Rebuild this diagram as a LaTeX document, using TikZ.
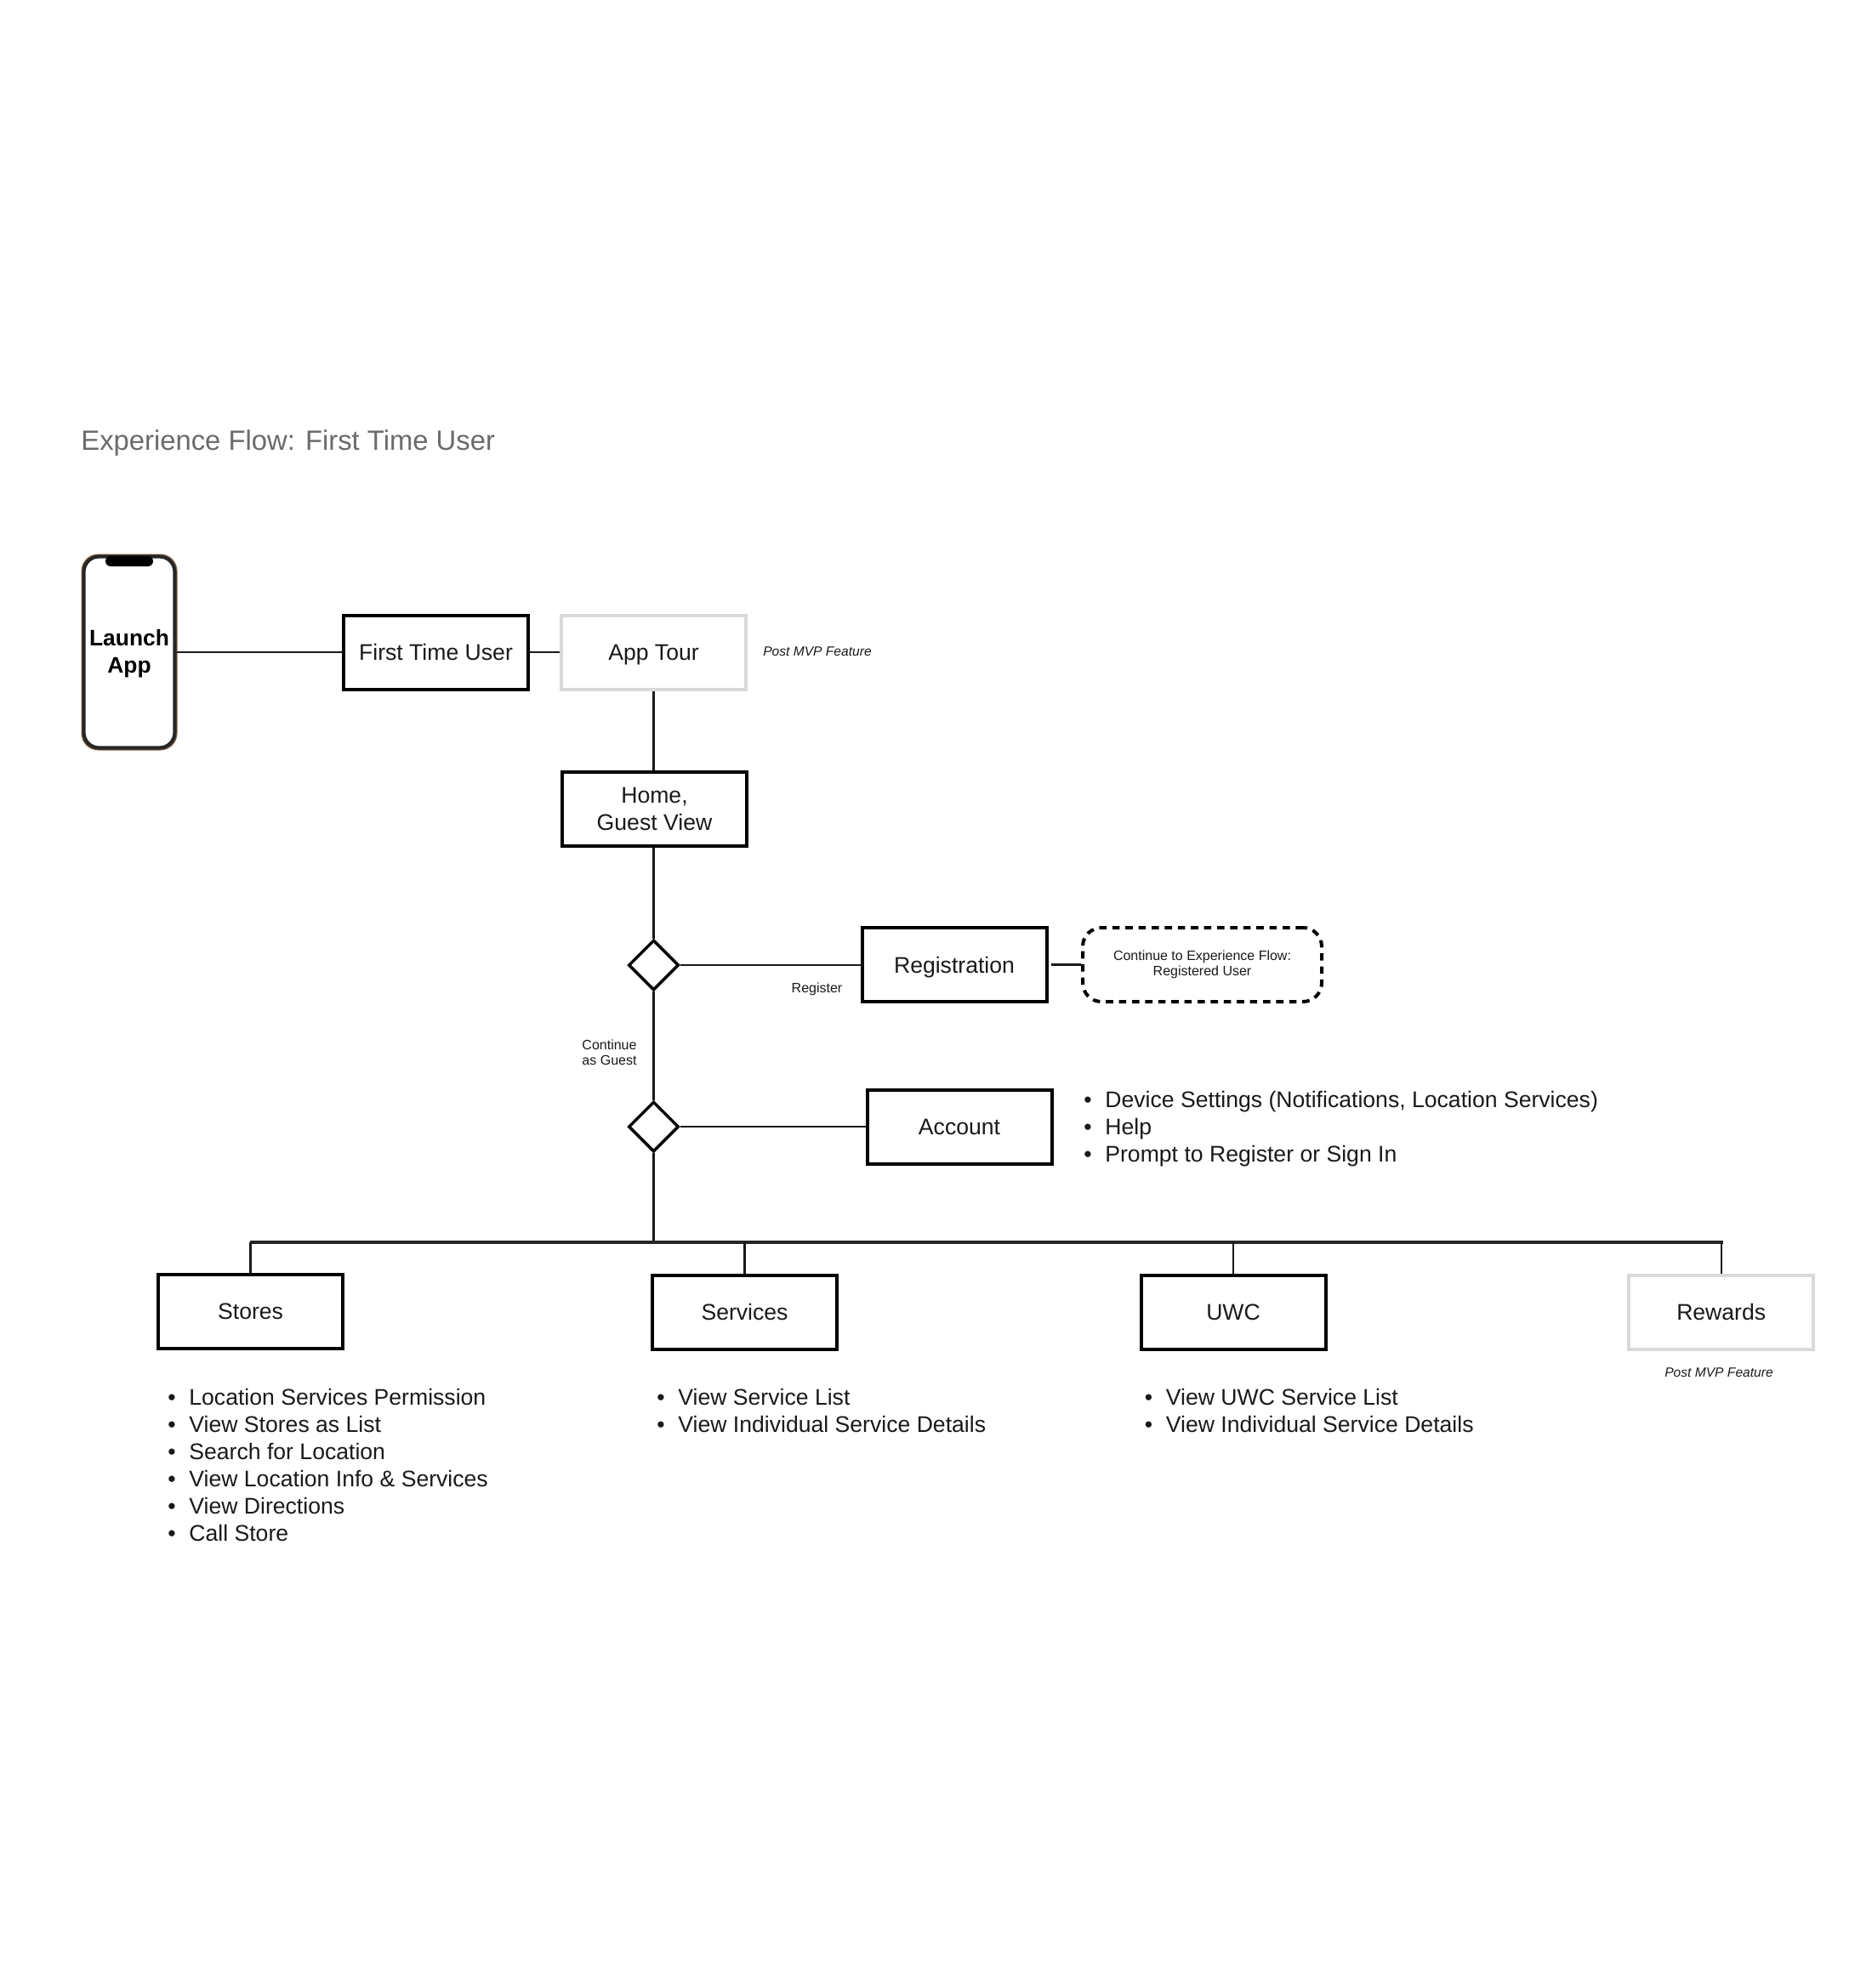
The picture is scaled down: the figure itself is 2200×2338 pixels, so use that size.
\documentclass[tikz,border=0pt]{standalone}
\usepackage{fontspec}
\setmainfont{Liberation Sans}
\usetikzlibrary{shapes.geometric,calc}
\newcommand{\blt}{\makebox[12.5pt][l]{•}}
\definecolor{phonebrown}{HTML}{8A6A48}
\definecolor{phonedark}{HTML}{262626}
\definecolor{fadedge}{HTML}{D9D9D9}
\definecolor{titlegrey}{HTML}{6B6B6B}
\definecolor{inkdark}{HTML}{1A1A1A}
\tikzset{
  x=0.5pt, y=-0.5pt,
  basebox/.style={draw=black, line width=2pt, fill=white, minimum width=108.5pt, minimum height=43.5pt,
    inner sep=0pt, align=center, text=inkdark, font=\fontsize{13.3}{16}\selectfont},
  flowbox/.style={basebox, text height=9.6pt, text depth=0pt},
  fadedbox/.style={flowbox, draw=fadedge},
  decision/.style={diamond, aspect=1, draw=black, line width=1.75pt, fill=white, minimum width=29.5pt, minimum height=29.5pt, inner sep=0pt},
  linkthick/.style={draw=black!90, line width=1.4pt},
  linkthin/.style={draw=black!90, line width=1.15pt},
  noteitalic/.style={inner sep=0pt, text=inkdark, font=\fontsize{7.8}{9}\selectfont\itshape},
  notesmall/.style={inner sep=0pt, align=center, text=inkdark, font=\fontsize{8}{9}\selectfont},
  bulletlist/.style={inner sep=0pt, align=left, anchor=west, text=inkdark, font=\fontsize{13.3}{16}\selectfont},
  handoff/.style={draw=black, line width=2pt, rounded corners=11pt, dash pattern=on 4.3pt off 3.4pt, fill=white,
    minimum width=140.5pt, minimum height=43.5pt, inner sep=0pt, align=center, text=inkdark, font=\fontsize{8}{9}\selectfont},
  phonebody/.style={draw=phonedark, line width=2.1pt, rounded corners=9pt, fill=white, minimum width=53.5pt, minimum height=112.5pt,
    inner sep=0pt, align=center, text=black, font=\fontsize{13.2}{16}\selectfont\bfseries},
}
\begin{document}
\begin{tikzpicture}
\useasboundingbox (0,0) rectangle (2200,2338);
\fill[white] (0,0) rectangle (2200,2338);

\node[anchor=west, inner sep=0pt, text=titlegrey, font=\fontsize{16.4}{20}\selectfont] (title) at (95,521) {Experience Flow: First Time User};

% phone
\fill[phonebrown, rounded corners=10pt] (95.5,651.5) rectangle (208.5,882.5);
\node[phonebody] (phone) at (152,767) {\rule{0pt}{11pt}Launch\\App};
\fill[black, rounded corners=3pt] (124,654) -- (180,654) -- (180,666) -- (124,666) -- cycle;

% boxes
\node[flowbox] (first) at (512.5,767) {First Time User};
\node[fadedbox] (tour) at (768.5,767) {App Tour};
\node[basebox] (home) at (769.5,951.5) {Home,\\Guest View};
\node[decision] (d1) at (768.5,1135) {};
\node[decision] (d2) at (768.5,1325) {};
\node[flowbox] (reg) at (1122,1134.5) {Registration};
\node[handoff] (cont) at (1413.5,1134.5) {Continue to Experience Flow:\\Registered User};
\node[flowbox] (account) at (1128,1325) {Account};
\node[flowbox] (stores) at (294.6,1542) {Stores};
\node[flowbox] (services) at (875.5,1543) {Services};
\node[flowbox] (uwc) at (1450,1543) {UWC};
\node[fadedbox] (rewards) at (2023.7,1543) {Rewards};

% labels
\node[noteitalic] (mvpa) at (961,766) {Post MVP Feature};
\node[noteitalic] (mvpb) at (2021,1614) {Post MVP Feature};
\node[notesmall] (lreg) at (960.5,1163) {Register};
\node[notesmall] (lguest) at (716.5,1237.5) {Continue\\as Guest};

% connectors
\coordinate (busl) at (293.5,1461);
\coordinate (busr) at (2025.6,1461);
\coordinate (trunk) at (768.5,1461);
\draw[linkthick] (phone.east) -- (first.west);
\draw[linkthick] (first.east) -- (tour.west);
\draw[linkthin] (tour.south) -- (tour.south |- home.north);
\draw[linkthin] (d1.north |- home.south) -- (d1.north);
\draw[linkthin] (d1.south) -- (d2.north);
\draw[linkthin] (d2.south) -- (trunk);
\draw[linkthick] (d1.east) -- (d1.east -| reg.west);
\draw[linkthick, shorten <=1.5pt] (reg.east) -- (cont.west);
\draw[linkthick] (d2.east) -- (account.west);
\draw[draw=black!85, line width=1.6pt] (busl) -- (busr);
\draw[linkthin] (stores.north) -- (stores.north |- busl);
\draw[linkthin] (services.north) -- (services.north |- busl);
\draw[linkthin] (uwc.north) -- (uwc.north |- busl);
\draw[linkthin] (rewards.north) -- (rewards.north |- busl);

% lists
\node[bulletlist] (acctlist) at (1274,1328) {\blt Device Settings (Notifications, Location Services)\\\blt Help\\\blt Prompt to Register or Sign In};
\node[bulletlist] (storelist) at (197,1722.5) {\blt Location Services Permission\\\blt View Stores as List\\\blt Search for Location\\\blt View Location Info \& Services\\\blt View Directions\\\blt Call Store};
\node[bulletlist] (servlist) at (772,1659) {\blt View Service List\\\blt View Individual Service Details};
\node[bulletlist] (uwclist) at (1345.5,1659) {\blt View UWC Service List\\\blt View Individual Service Details};
\end{tikzpicture}
\end{document}
